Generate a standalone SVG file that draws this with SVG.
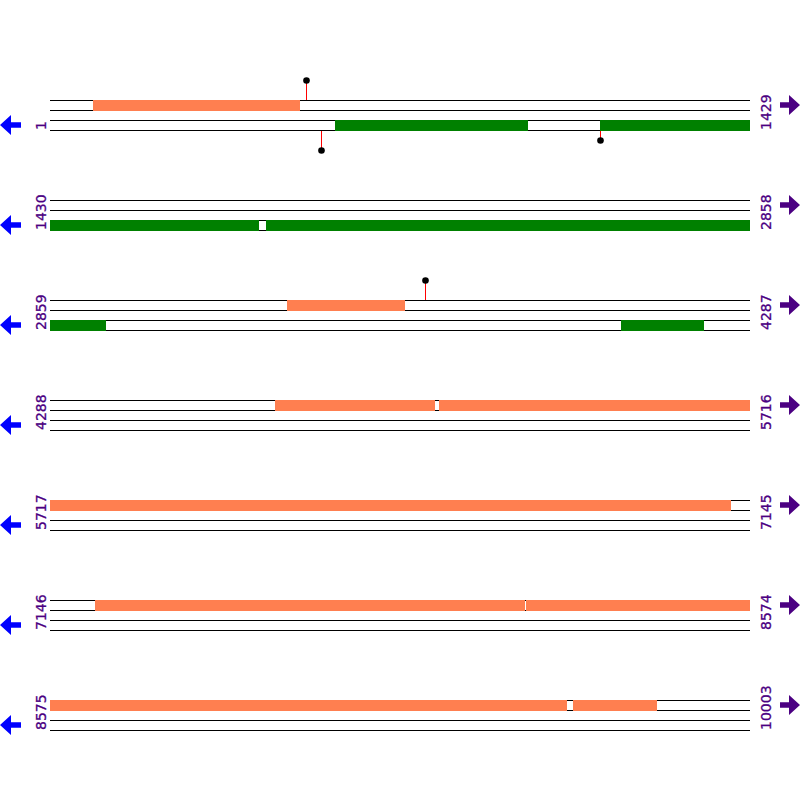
<svg xmlns="http://www.w3.org/2000/svg" width="800" height="800" viewBox="0 0 800 800">
<defs>
<style>
.trk{stroke:#000;stroke-width:1;fill:none}
.fwd{fill:#FF7F50}
.rev{fill:#008000}
.lbl{font-family:"DejaVu Sans",sans-serif;font-size:14px;fill:#4B0082;stroke:#4B0082;stroke-width:0.3}
.pin{stroke:#FF0000;stroke-width:1}
.head{fill:#000}
.larr{fill:#0000FF}
.rarr{fill:#4B0082}
</style>
<polygon id="la" points="0,0 11,-10 11,-2.7 21,-2.7 21,2.7 11,2.7 11,10"/>
<polygon id="ra" points="20,0 9,-10 9,-2.7 0,-2.7 0,2.7 9,2.7 9,10"/>
<g id="tracks">
<path class="trk" d="M50,0.5H750M50,10.5H750M50,20.5H750M50,30.5H750"/>
</g>
</defs>
<rect width="800" height="800" fill="#fff"/>

<g id="row1" transform="translate(0,100)">
<use href="#tracks"/>
<rect class="fwd" x="93" y="0" width="207" height="11"/>
<rect class="rev" x="335" y="20" width="193" height="11"/>
<rect class="rev" x="600" y="20" width="150" height="11"/>
<text class="lbl" transform="translate(46,30) rotate(-90)">1</text>
<text class="lbl" transform="translate(771,30) rotate(-90)">1429</text>
<use href="#la" class="larr" y="25"/>
<use href="#ra" class="rarr" x="780" y="5"/>
</g>
<g id="pins1">
<line class="pin" x1="306.5" y1="80" x2="306.5" y2="100"/><circle class="head" cx="306.5" cy="80.5" r="3.3"/>
<line class="pin" x1="321.5" y1="131" x2="321.5" y2="150"/><circle class="head" cx="321.5" cy="150.5" r="3.3"/>
<line class="pin" x1="600.5" y1="131" x2="600.5" y2="140"/><circle class="head" cx="600.5" cy="140.5" r="3.3"/>
</g>

<g id="row2" transform="translate(0,200)">
<use href="#tracks"/>
<rect class="rev" x="50" y="20" width="209" height="11"/>
<rect class="rev" x="266" y="20" width="484" height="11"/>
<text class="lbl" transform="translate(46,30) rotate(-90)">1430</text>
<text class="lbl" transform="translate(771,30) rotate(-90)">2858</text>
<use href="#la" class="larr" y="25"/>
<use href="#ra" class="rarr" x="780" y="5"/>
</g>

<g id="row3" transform="translate(0,300)">
<use href="#tracks"/>
<rect class="fwd" x="287" y="0" width="118" height="11"/>
<rect class="rev" x="50" y="20" width="56" height="11"/>
<rect class="rev" x="621" y="20" width="83" height="11"/>
<text class="lbl" transform="translate(46,30) rotate(-90)">2859</text>
<text class="lbl" transform="translate(771,30) rotate(-90)">4287</text>
<use href="#la" class="larr" y="25"/>
<use href="#ra" class="rarr" x="780" y="5"/>
</g>
<g id="pins3">
<line class="pin" x1="425.5" y1="280" x2="425.5" y2="300"/><circle class="head" cx="425.5" cy="280.5" r="3.3"/>
</g>

<g id="row4" transform="translate(0,400)">
<use href="#tracks"/>
<rect class="fwd" x="275" y="0" width="160" height="11"/>
<rect class="fwd" x="439" y="0" width="311" height="11"/>
<text class="lbl" transform="translate(46,30) rotate(-90)">4288</text>
<text class="lbl" transform="translate(771,30) rotate(-90)">5716</text>
<use href="#la" class="larr" y="25"/>
<use href="#ra" class="rarr" x="780" y="5"/>
</g>

<g id="row5" transform="translate(0,500)">
<use href="#tracks"/>
<rect class="fwd" x="50" y="0" width="681" height="11"/>
<text class="lbl" transform="translate(46,30) rotate(-90)">5717</text>
<text class="lbl" transform="translate(771,30) rotate(-90)">7145</text>
<use href="#la" class="larr" y="25"/>
<use href="#ra" class="rarr" x="780" y="5"/>
</g>

<g id="row6" transform="translate(0,600)">
<use href="#tracks"/>
<rect class="fwd" x="95" y="0" width="430" height="11"/>
<rect class="fwd" x="526" y="0" width="224" height="11"/>
<text class="lbl" transform="translate(46,30) rotate(-90)">7146</text>
<text class="lbl" transform="translate(771,30) rotate(-90)">8574</text>
<use href="#la" class="larr" y="25"/>
<use href="#ra" class="rarr" x="780" y="5"/>
</g>

<g id="row7" transform="translate(0,700)">
<use href="#tracks"/>
<rect class="fwd" x="50" y="0" width="517" height="11"/>
<rect class="fwd" x="573" y="0" width="84" height="11"/>
<text class="lbl" transform="translate(46,30) rotate(-90)">8575</text>
<text class="lbl" transform="translate(771,30) rotate(-90)">10003</text>
<use href="#la" class="larr" y="25"/>
<use href="#ra" class="rarr" x="780" y="5"/>
</g>
</svg>
